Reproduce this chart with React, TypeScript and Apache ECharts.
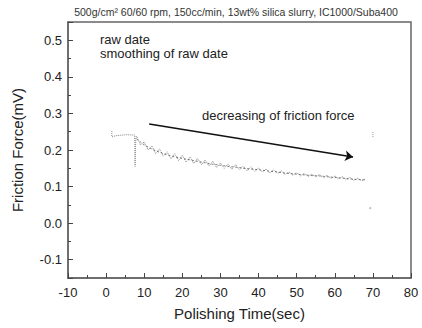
import React, { useEffect, useRef } from "react";
import * as echarts from "echarts";

const titleText = "500g/cm² 60/60 rpm, 150cc/min, 13wt% silica slurry, IC1000/Suba400";
const xName = "Polishing Time(sec)";
const yName = "Friction Force(mV)";
const legendRaw = "raw date";
const legendSmooth = "smoothing of raw date";
const annotationText = "decreasing of friction force";

const xMin = -10;
const xMax = 80;
const yMin = -0.15;
const yMax = 0.55;

// raw data: start plateau, drop, then noisy decay
const rawTime = [1.5, 1.5, 2.5, 3.5, 4.5, 5.5, 6.5, 7.5, 7.6, 7.8,
  8, 9, 10, 11, 12, 13, 14, 15, 16, 17, 18, 19, 20, 21, 22, 23, 24, 25, 26, 27, 28, 29, 30,
  31, 32, 33, 34, 35, 36, 37, 38, 39, 40, 41, 42, 43, 44, 45, 46, 47, 48, 49, 50,
  51, 52, 53, 54, 55, 56, 57, 58, 59, 60, 61, 62, 63, 64, 65, 66, 67, 68];
const rawForce = [0.252, 0.236, 0.239, 0.240, 0.241, 0.242, 0.241, 0.241, 0.155, 0.235,
  0.238, 0.214, 0.222, 0.200, 0.211, 0.190, 0.203, 0.183, 0.195, 0.176, 0.190, 0.171, 0.186, 0.167, 0.181, 0.163, 0.177, 0.160, 0.173, 0.156, 0.169, 0.152, 0.165,
  0.150, 0.162, 0.147, 0.160, 0.146, 0.156, 0.143, 0.154, 0.142, 0.151, 0.140, 0.148, 0.137, 0.146, 0.136, 0.143, 0.133, 0.140, 0.131, 0.138,
  0.129, 0.136, 0.128, 0.134, 0.126, 0.133, 0.124, 0.131, 0.122, 0.129, 0.121, 0.127, 0.119, 0.125, 0.117, 0.123, 0.116, 0.121];

const smoothTime = [8, 9, 10, 11, 12, 13, 14, 15, 16, 17, 18, 19, 20, 21, 22, 23, 24, 25, 26, 27, 28, 29, 30,
  31, 32, 33, 34, 35, 36, 37, 38, 39, 40, 41, 42, 43, 44, 45, 46, 47, 48, 49, 50,
  51, 52, 53, 54, 55, 56, 57, 58, 59, 60, 61, 62, 63, 64, 65, 66, 67, 68];
const smoothForce = [0.230, 0.222, 0.214, 0.208, 0.203, 0.198, 0.194, 0.190, 0.187, 0.184, 0.181, 0.179, 0.177, 0.175, 0.173, 0.171, 0.169, 0.167, 0.165, 0.163, 0.161, 0.160, 0.158,
  0.157, 0.155, 0.154, 0.153, 0.152, 0.150, 0.149, 0.148, 0.147, 0.146, 0.145, 0.143, 0.142, 0.141, 0.140, 0.138, 0.137, 0.136, 0.135, 0.134,
  0.133, 0.132, 0.131, 0.130, 0.130, 0.129, 0.128, 0.127, 0.126, 0.125, 0.124, 0.123, 0.122, 0.121, 0.120, 0.119, 0.119, 0.118];

const strayTime = [70, 70];
const strayForce = [0.249, 0.233];
const dotTime = [69.3];
const dotForce = [0.041];

const arrowStart = [11.3, 0.271];
const arrowEnd = [64.8, 0.181];

const FONT = "Liberation Sans, Arial, sans-serif";

export default function App() {
  const ref = useRef<HTMLDivElement>(null);
  useEffect(() => {
    if (!ref.current) return;
    const chart = echarts.init(ref.current, undefined, { renderer: "svg" });
    const zip = (a: number[], b: number[]) => a.map((v, i) => [v, b[i]]);
    chart.setOption({
      animation: false,
      backgroundColor: "#fff",
      textStyle: { fontFamily: FONT },
      grid: {
        left: 68, right: 11, top: 22, bottom: 50,
        show: true, borderColor: "#666", borderWidth: 1.5,
      },
      xAxis: {
        type: "value", min: xMin, max: xMax, interval: 10,
        name: xName, nameLocation: "middle", nameGap: 28,
        nameTextStyle: { fontSize: 15, color: "#222", fontFamily: FONT },
        axisLine: { onZero: false, lineStyle: { color: "#666", width: 1.5 } },
        axisTick: { inside: true, length: 5, lineStyle: { color: "#444" } },
        minorTick: { show: true, splitNumber: 2, length: 3, lineStyle: { color: "#444" } },
        splitLine: { show: false },
        axisLabel: { fontSize: 13, color: "#222", margin: 8, fontFamily: FONT },
      },
      yAxis: {
        type: "value", min: yMin, max: yMax, splitNumber: 7,
        name: yName, nameLocation: "middle", nameGap: 43,
        nameTextStyle: { fontSize: 15, color: "#222", fontFamily: FONT },
        axisLine: { onZero: false, lineStyle: { color: "#666", width: 1.5 } },
        axisTick: { inside: true, length: 5, lineStyle: { color: "#444" } },
        minorTick: { show: true, splitNumber: 2, length: 3, lineStyle: { color: "#444" } },
        splitLine: { show: false },
        axisLabel: {
          fontSize: 13, color: "#222", margin: 6, fontFamily: FONT,
          showMinLabel: false, showMaxLabel: false,
          formatter: (v: number) => v.toFixed(1),
        },
      },
      series: [
        {
          name: legendRaw, type: "line", data: zip(rawTime, rawForce),
          showSymbol: false, lineStyle: { color: "#888", width: 1, type: "dotted" },
          silent: true,
        },
        {
          name: legendSmooth, type: "line", data: zip(smoothTime, smoothForce),
          showSymbol: false, lineStyle: { color: "#555", width: 0.8, type: [2, 2] },
          silent: true,
          markLine: {
            silent: true,
            symbol: ["none", "arrow"],
            symbolSize: 8,
            label: { show: false },
            lineStyle: { color: "#111", width: 1.6, type: "solid" },
            data: [[{ coord: arrowStart }, { coord: arrowEnd }]],
          },
        },
        {
          name: "stray", type: "line", data: zip(strayTime, strayForce),
          showSymbol: false, lineStyle: { color: "#999", width: 1, type: "dotted" },
          silent: true,
        },
        {
          name: "dot", type: "scatter", data: zip(dotTime, dotForce),
          symbolSize: 2, itemStyle: { color: "#aaa" }, silent: true,
        },
      ],
      graphic: [
        {
          type: "text", x: 236, y: 12,
          style: { text: titleText, fontSize: 10.5, fill: "#333", fontFamily: FONT, align: "center", verticalAlign: "middle" },
        },
        {
          type: "text", x: 100, y: 39,
          style: { text: legendRaw, fontSize: 13, fill: "#222", fontFamily: FONT, align: "left", verticalAlign: "middle" },
        },
        {
          type: "text", x: 100, y: 53,
          style: { text: legendSmooth, fontSize: 13, fill: "#222", fontFamily: FONT, align: "left", verticalAlign: "middle" },
        },
        {
          type: "text", x: 202, y: 115,
          style: { text: annotationText, fontSize: 13, fill: "#222", fontFamily: FONT, align: "left", verticalAlign: "middle" },
        },
      ],
    });
    return () => chart.dispose();
  }, []);
  return <div ref={ref} style={{ width: 422, height: 328, position: "absolute", left: 0, top: 0 }} />;
}
